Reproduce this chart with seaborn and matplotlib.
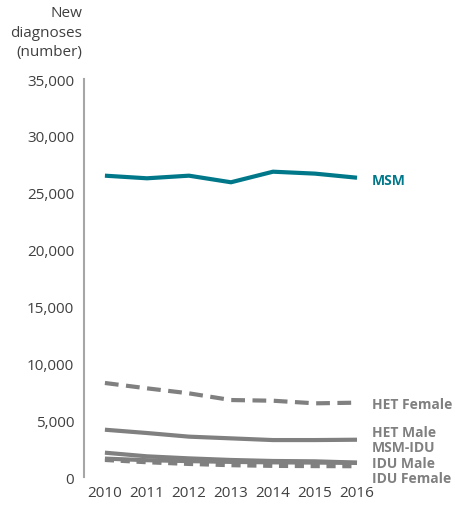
import matplotlib
matplotlib.use("Agg")
import matplotlib.pyplot as plt
import seaborn as sns
import pandas as pd

years = [2010, 2011, 2012, 2013, 2014, 2015, 2016]
msm = [26500, 26270, 26500, 25920, 26850, 26680, 26320]
het_female = [8270, 7800, 7360, 6770, 6710, 6480, 6540]
het_male = [4160, 3870, 3550, 3400, 3250, 3250, 3280]
msm_idu = [2140, 1820, 1640, 1500, 1410, 1380, 1270]
idu_male = [1620, 1480, 1400, 1330, 1290, 1270, 1240]
idu_female = [1500, 1300, 1150, 1040, 980, 960, 950]

series_names = ["MSM", "HET Female", "HET Male", "MSM-IDU", "IDU Male", "IDU Female"]
series_values = [msm, het_female, het_male, msm_idu, idu_male, idu_female]
label_y = [26100, 6450, 4000, 2600, 1250, -100]

yticks = [0, 5000, 10000, 15000, 20000, 25000, 30000, 35000]

teal = "#00788a"
grey = "#808080"
colors = [teal, grey, grey, grey, grey, grey]
dash_styles = [None, (3.3, 1.8), None, None, None, (2.2, 1.6)]

sns.set_style("white")
plt.rcParams["font.family"] = ["Open Sans", "DejaVu Sans"]

fig = plt.figure(figsize=(4.56, 5.10), dpi=100)
ax = fig.add_axes([0.184, 0.0627, 0.645, 0.7804])

for name, vals, col, dash in zip(series_names, series_values, colors, dash_styles):
    df = pd.DataFrame({"year": years, "value": vals})
    sns.lineplot(data=df, x="year", y="value", ax=ax, color=col, linewidth=3.0)
    line = ax.lines[-1]
    if dash is not None:
        line.set_dashes(dash)
    line.set_solid_capstyle("butt")
    line.set_dash_capstyle("butt")

for name, ly, col in zip(series_names, label_y, colors):
    ax.text(2016.35, ly, name, color=col, fontsize=10, fontweight="bold",
            va="center", ha="left", clip_on=False)

ax.set_xlim(2009.5, 2016.5)
ax.set_ylim(0, 35000)
ax.set_xticks(years)
ax.set_xticklabels([str(y) for y in years])
ax.set_yticks(yticks)
ax.set_yticklabels([f"{v:,}" for v in yticks])
ax.tick_params(axis="both", length=0, labelsize=11, colors="#404040")
ax.tick_params(axis="y", pad=7)
ax.tick_params(axis="x", pad=6)
ax.set_xlabel("")
ax.set_ylabel("")

for s in ["top", "right", "bottom"]:
    ax.spines[s].set_visible(False)
ax.spines["left"].set_color("#a6a6a6")
ax.spines["left"].set_linewidth(1.5)

fig.text(0.18, 0.988, "New\ndiagnoses\n(number)", ha="right", va="top",
         fontsize=11, color="#404040", linespacing=1.42)

fig.savefig("out.png", dpi=100)
